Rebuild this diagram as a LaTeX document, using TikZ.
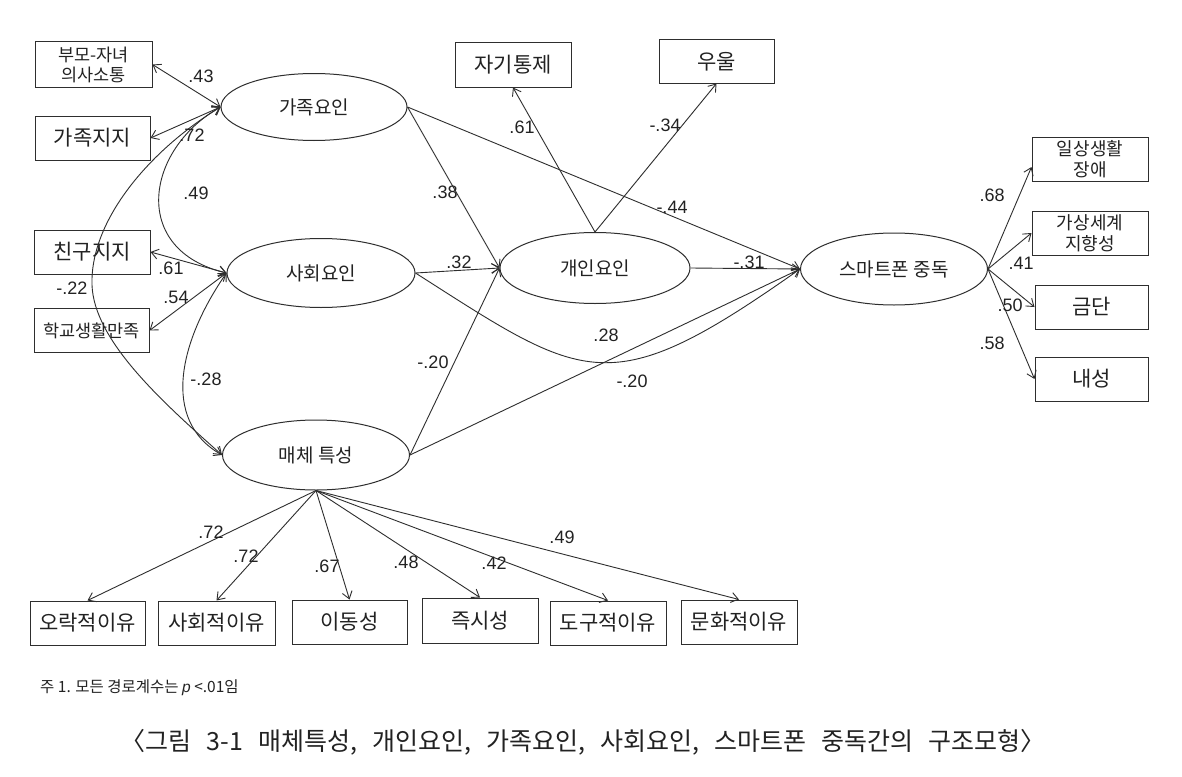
\documentclass[tikz,border=0pt]{standalone}
\usepackage{fontspec}
\setmainfont{Noto Sans CJK KR}
\newfontfamily\numfont{Liberation Sans}
\usetikzlibrary{arrows.meta,shapes.geometric,calc}
\definecolor{linec}{HTML}{2E2E2E}
\definecolor{txtc}{HTML}{222222}
\tikzset{
  box/.style={draw=linec, line width=1pt, minimum width=116pt, minimum height=44pt, inner sep=0pt, align=center, text=txtc, font=\fontsize{21}{24}\selectfont},
  sbox/.style={box, font=\fontsize{17.5}{20}\selectfont},
  mbox/.style={box, font=\fontsize{18}{21}\selectfont},
  lat/.style={ellipse, draw=linec, line width=1pt, inner sep=0pt, minimum width=187pt, minimum height=69pt, text=txtc, font=\fontsize{19}{21}\selectfont},
  coef/.style={inner sep=0pt, text=txtc, font=\numfont\fontsize{18}{20}\selectfont},
  tip/.tip={Straight Barb[length=7pt,width=10pt,line width=0.9pt]},
  arr/.style={draw=linec, line width=0.9pt, -tip},
  dbl/.style={draw=linec, line width=0.9pt, tip-tip},
}
\begin{document}
\begin{tikzpicture}[x=1pt,y=-1pt]
\useasboundingbox (0,0) rectangle (1182,776);
\fill[white] (0,0) rectangle (1182,776);

% latent variables
\node[lat, minimum width=186pt, minimum height=67pt] (gajok) at (314,107) {가족요인};
\node[lat, minimum width=188pt] (sahoe) at (321,273) {사회요인};
\node[lat, minimum height=70pt] (media) at (316,455) {매체 특성};
\node[lat, minimum width=190pt, minimum height=71pt] (gaein) at (595,268) {개인요인};
\node[lat, minimum height=72pt] (smart) at (894,269) {스마트폰 중독};

% left indicators
\node[sbox, minimum width=117pt, minimum height=45pt] (bumo) at (93.5,64.5) {부모-자녀\\의사소통};
\node[box, minimum width=115pt] (gajokji) at (92.5,138) {가족지지};
\node[box] (chingu) at (92,252) {친구지지};
\node[sbox, minimum width=115pt] (hakgyo) at (91.5,330.5) {학교생활만족};

% top indicators
\node[box] (jagi) at (513,65) {자기통제};
\node[box, minimum width=115pt, minimum height=43pt] (uul) at (716.5,61.5) {우울};

% right indicators
\node[mbox] (ilsang) at (1090,159) {일상생활\\장애};
\node[mbox] (gasang) at (1090,233) {가상세계\\지향성};
\node[box, minimum width=113pt] (geumdan) at (1091.5,307) {금단};
\node[box, minimum width=113pt] (naeseong) at (1091.5,379) {내성};

% bottom indicators
\node[box, minimum width=115pt] (orak) at (87.5,623) {오락적이유};
\node[box, minimum width=117pt] (sahoejeok) at (216.5,623) {사회적이유};
\node[box, minimum width=115pt] (idong) at (349.5,622) {이동성};
\node[box, minimum height=45pt] (jeuksi) at (480,620.5) {즉시성};
\node[box] (dogu) at (608,623) {도구적이유};
\node[box] (munhwa) at (739,622) {문화적이유};

% left double arrows
\draw[dbl] (bumo.east) -- (gajok.west);
\draw[dbl] (gajokji.east) -- (gajok.west);
\draw[dbl] (chingu.east) -- (sahoe.west);
\draw[dbl] (hakgyo.east) -- (sahoe.west);

% correlations
\draw[dbl] (gajok.west) .. controls (145,150) and (130,250) .. (sahoe.west);
\coordinate (lm) at (92,285);
\draw[dbl] (gajok.west) .. controls (150,150) and (90,220) .. (lm) .. controls (94,340) and (160,400) .. (media.west);
\draw[dbl] (sahoe.west) .. controls (180,340) and (160,420) .. (media.west);

% structural paths
\draw[arr] (gajok.east) -- (gaein.west);
\draw[arr] (gajok.east) -- (smart.west);
\draw[arr] (sahoe.east) -- (gaein.west);
\draw[arr] (sahoe.east) .. controls (586,382) and (609,404) .. (smart.west);
\draw[arr] (media.east) -- (gaein.west);
\draw[arr] (media.east) -- (smart.west);
\draw[arr] (gaein.east) -- (smart.west);

% personal indicators
\draw[arr] (gaein.north) -- (jagi.south);
\draw[arr] (gaein.north) -- (uul.south);

% addiction indicators
\draw[arr] (smart.east) -- ([yshift=-8pt]ilsang.west);
\draw[arr] (smart.east) -- (gasang.west);
\draw[arr] (smart.east) -- (geumdan.west);
\draw[arr] (smart.east) -- (naeseong.west);

% media indicators
\foreach \b in {orak,sahoejeok,idong,jeuksi,dogu,munhwa}
  \draw[arr] (media.south) -- (\b.north);

% coefficients
\node[coef] at (201,76) {.43};
\node[coef] at (192,135) {.72};
\node[coef] at (196,193) {.49};
\node[coef] at (171,268) {.61};
\node[coef] at (72,288) {-.22};
\node[coef] at (176,297) {.54};
\node[coef] at (206,379) {-.28};
\node[coef] at (445,192) {.38};
\node[coef] at (522,127) {.61};
\node[coef] at (665,125) {-.34};
\node[coef] at (672,207) {-.44};
\node[coef] at (459,262) {.32};
\node[coef] at (749,262) {-.31};
\node[coef] at (606,335) {.28};
\node[coef] at (433,362) {-.20};
\node[coef] at (632,381) {-.20};
\node[coef] at (992,195) {.68};
\node[coef] at (1021,263) {.41};
\node[coef] at (1010,305) {.50};
\node[coef] at (992,343) {.58};
\node[coef] at (211,532) {.72};
\node[coef] at (246,556) {.72};
\node[coef] at (327,566) {.67};
\node[coef] at (406,562) {.48};
\node[coef] at (494,563) {.42};
\node[coef] at (562,537) {.49};

% notes
\node[anchor=west, inner sep=0pt, text=txtc, font=\fontsize{15.5}{17}\selectfont] (note) at (40,688) {주 1. 모든 경로계수는 {\numfont\itshape p} <.01임};
\node[inner sep=0pt, text=txtc, font=\fontsize{25}{28}\selectfont] (cap) at (583,742) {\spaceskip=15pt〈그림 3-1 매체특성, 개인요인, 가족요인, 사회요인, 스마트폰 중독간의 구조모형〉};
\end{tikzpicture}
\end{document}
